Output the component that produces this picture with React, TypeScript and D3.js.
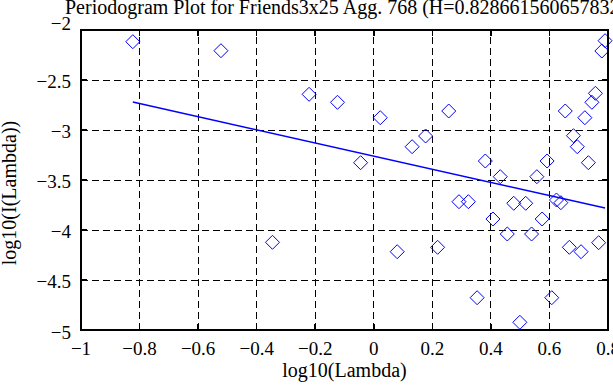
import React from "react";
import * as d3 from "d3";

const TITLE = "Periodogram Plot for Friends3x25 Agg. 768 (H=0.828661560657832)";
const X_LABEL = "log10(Lambda)";
const Y_LABEL = "log10(I(Lambda))";

const logLambda = [
  -0.823, -0.522, -0.346, -0.221, -0.124, -0.045, 0.022, 0.08, 0.131, 0.177,
  0.218, 0.256, 0.291, 0.323, 0.353, 0.381, 0.407, 0.432, 0.456, 0.478,
  0.499, 0.519, 0.539, 0.557, 0.575, 0.592, 0.608, 0.624, 0.639, 0.654,
  0.668, 0.682, 0.695, 0.708, 0.721, 0.733, 0.745, 0.757, 0.768, 0.779, 0.79,
];
const logI = [
  -2.117, -2.207, -4.123, -2.643, -2.723, -3.327, -2.877, -4.217, -3.167, -3.06,
  -4.173, -2.81, -3.717, -3.717, -4.677, -3.31, -3.89, -3.467, -4.04, -3.733,
  -4.923, -3.733, -4.04, -3.467, -3.89, -3.31, -4.677, -3.7, -3.727, -2.81,
  -4.173, -3.057, -3.167, -4.217, -2.877, -3.327, -2.723, -2.633, -4.127, -2.21, -2.107,
];
const fitSlope = -0.65732;
const fitIntercept = -3.2616;

const xTicks = [-1, -0.8, -0.6, -0.4, -0.2, 0, 0.2, 0.4, 0.6, 0.8];
const yTicks = [-5, -4.5, -4, -3.5, -3, -2.5, -2];

const W = 613, H = 385;
const L = 81, R = 608, T = 30, B = 330;
const BLUE = "#0000ff";
const FONT = "'Liberation Serif', 'Times New Roman', serif";

const fmt = (v: number) => (v < 0 ? "\u2212" : "") + String(Math.abs(v));

export default function App() {
  const x = d3.scaleLinear().domain([-1, 0.8]).range([L, R]);
  const y = d3.scaleLinear().domain([-5, -2]).range([B, T]);
  const pts = logLambda.map((v, i) => [v, logI[i]] as [number, number]);
  const x0 = logLambda[0], x1 = logLambda[logLambda.length - 1];
  const fitLine = d3.line<[number, number]>().x(d => x(d[0])).y(d => y(d[1]))([
    [x0, fitIntercept + fitSlope * x0],
    [x1, fitIntercept + fitSlope * x1],
  ]);
  const diamond = (cx: number, cy: number, r = 7) =>
    `M${cx},${cy - r}L${cx + r},${cy}L${cx},${cy + r}L${cx - r},${cy}Z`;
  const tl = 6;
  return (
    <svg width={W} height={H} style={{ position: "absolute", left: 0, top: 0, background: "#fff" }} fontFamily={FONT}>
      <rect x={0} y={0} width={W} height={H} fill="#fff" />
      {/* grid */}
      <g shapeRendering="crispEdges">
        {xTicks.slice(1, -1).map(t => (
          <line key={"gx" + t} x1={x(t)} x2={x(t)} y1={B} y2={T} stroke="#000" strokeWidth={1} strokeDasharray="7,4" />
        ))}
        {yTicks.slice(1, -1).map(t => (
          <line key={"gy" + t} x1={L} x2={R} y1={y(t)} y2={y(t)} stroke="#000" strokeWidth={1} strokeDasharray="7,4" />
        ))}
        {/* ticks */}
        {xTicks.map(t => (
          <g key={"tx" + t}>
            <line x1={x(t)} x2={x(t)} y1={B} y2={B - tl} stroke="#000" strokeWidth={1.5} />
            <line x1={x(t)} x2={x(t)} y1={T} y2={T + tl} stroke="#000" strokeWidth={1.5} />
          </g>
        ))}
        {yTicks.map(t => (
          <g key={"ty" + t}>
            <line x1={L} x2={L + tl} y1={y(t)} y2={y(t)} stroke="#000" strokeWidth={1.5} />
            <line x1={R} x2={R - tl} y1={y(t)} y2={y(t)} stroke="#000" strokeWidth={1.5} />
          </g>
        ))}
      </g>
      {/* data */}
      {pts.map((p, i) => (
        <path key={"p" + i} d={diamond(x(p[0]), y(p[1]))} fill="none" stroke={BLUE} strokeWidth={1} />
      ))}
      <path d={fitLine || ""} fill="none" stroke={BLUE} strokeWidth={1.5} />
      {/* frame */}
      <rect x={L} y={T} width={R - L} height={B - T} fill="none" stroke="#000" strokeWidth={2} shapeRendering="crispEdges" />
      {/* tick labels */}
      {xTicks.map(t => (
        <text key={"lx" + t} x={x(t)} y={355} fontSize={19} textAnchor="middle" fill="#000">{fmt(t)}</text>
      ))}
      {yTicks.map((t, i) => (
        <text key={"ly" + t} x={71} y={y(t) + (i === yTicks.length - 1 ? -0.5 : i === 0 ? 9 : 8)} fontSize={19} textAnchor="end" fill="#000">{fmt(t)}</text>
      ))}
      {/* labels */}
      <text x={(L + R) / 2} y={377} fontSize={20} textAnchor="middle" fill="#000">{X_LABEL}</text>
      <text transform={`translate(16,193) rotate(-90)`} fontSize={20} textAnchor="middle" fill="#000">{Y_LABEL}</text>
      <text x={65} y={13.5} fontSize={20} fill="#000">{TITLE}</text>
    </svg>
  );
}
